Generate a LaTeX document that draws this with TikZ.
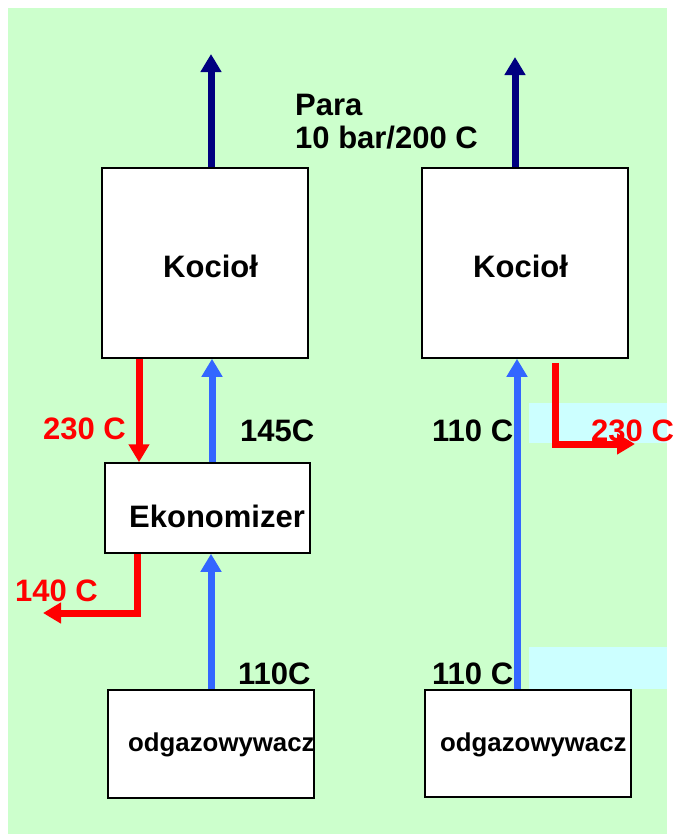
\documentclass[tikz,border=0pt]{standalone}
\usepackage{fontspec}
\setmainfont{Liberation Sans}
\usetikzlibrary{arrows.meta}
\definecolor{bggreen}{HTML}{CCFFCC}
\definecolor{bgcyan}{HTML}{CCFFFF}
\definecolor{navy}{HTML}{000080}
\definecolor{flowblue}{HTML}{3366FF}
\definecolor{flowred}{HTML}{FF0000}
\begin{document}
\begin{tikzpicture}[x=1pt,y=-1pt,
  unitbox/.style={draw=black, line width=1.5pt, fill=white, inner sep=0pt},
  big/.style={font=\fontsize{31}{33}\selectfont\bfseries, inner sep=0pt, anchor=base west},
  small/.style={font=\fontsize{25.8}{28}\selectfont\bfseries, inner sep=0pt, anchor=base west},
  flow/.style={line width=7pt, -{Triangle[length=18pt,width=20pt]}},
  steam/.style={flow, draw=navy},
  cold/.style={flow, draw=flowblue},
  hot/.style={flow, draw=flowred},
]
\useasboundingbox (0,0) rectangle (672,835);
\fill[white] (0,0) rectangle (672,835);
\fill[bggreen] (8,8) rectangle (667,834);
\fill[bgcyan] (529,403) rectangle (667,443);
\fill[bgcyan] (529,647) rectangle (667,689);

% boxes
\node[unitbox, minimum width=206pt, minimum height=190pt] (k1) at (205,263) {};
\node[unitbox, minimum width=206pt, minimum height=190pt] (k2) at (525,263) {};
\node[unitbox, minimum width=205pt, minimum height=90pt] (eko) at (207.5,508) {};
\node[unitbox, minimum width=206pt, minimum height=108pt] (od1) at (211,744) {};
\node[unitbox, minimum width=206pt, minimum height=107pt] (od2) at (528,743.5) {};

% free ends
\coordinate (s1) at (211,54);
\coordinate (s2) at (515,57);
\coordinate (out140) at (43,613);
\coordinate (out230) at (635,444);

% connectors
\draw[steam] ([xshift=6pt]k1.north) -- (s1);
\draw[steam] ([xshift=-10pt]k2.north) -- (s2);
\draw[hot] ([xshift=-66pt]k1.south) -- ([xshift=-66pt]k1.south |- eko.north);
\draw[cold] ([xshift=4.5pt]eko.north) -- ([xshift=4.5pt]eko.north |- k1.south);
\draw[cold] (od1.north) -- (od1.north |- eko.south);
\draw[hot] ([xshift=-70.5pt]eko.south) |- (out140);
\draw[cold] ([xshift=-11pt]od2.north) -- ([xshift=-11pt]od2.north |- k2.south);
\draw[hot] ([xshift=30pt,yshift=-4pt]k2.south) |- (out230);

% texts
\node[big] (para) at (295,115) {Para};
\node[big] (para2) at (295,148) {10 bar/200 C};
\node[big] (tk1) at (163,277) {Kocioł};
\node[big] (tk2) at (473,277) {Kocioł};
\node[big] (teko) at (129,527) {Ekonomizer};
\node[small] (tod1) at (128,751) {odgazowywacz};
\node[small] (tod2) at (440,751) {odgazowywacz};
\node[big, text=flowred] (l1) at (43,439) {230 C};
\node[big] (l2) at (240,441) {145C};
\node[big] (l3) at (432,441) {110 C};
\node[big, text=flowred] (l4) at (591,441) {230 C};
\node[big, text=flowred] (l5) at (15,601) {140 C};
\node[big] (l6) at (238,684) {110C};
\node[big] (l7) at (432,684) {110 C};
\end{tikzpicture}
\end{document}
